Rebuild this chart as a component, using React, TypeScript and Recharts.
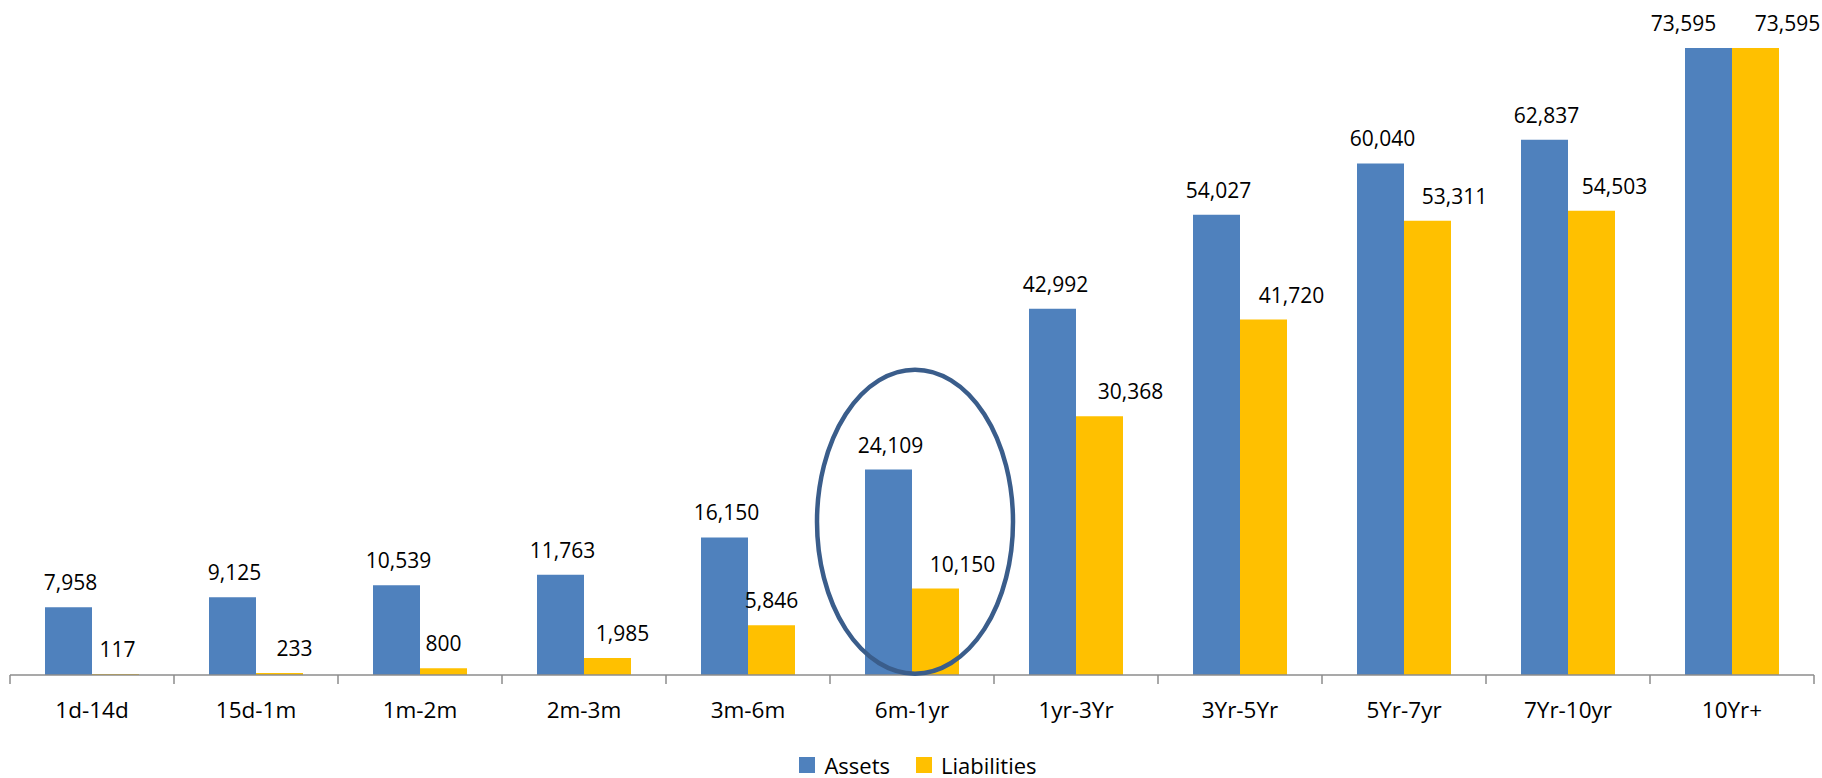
import React from "react";
import {
  BarChart,
  Bar,
  XAxis,
  YAxis,
  Legend,
  LabelList,
  ReferenceDot,
} from "recharts";

const buckets = [
  "1d-14d",
  "15d-1m",
  "1m-2m",
  "2m-3m",
  "3m-6m",
  "6m-1yr",
  "1yr-3Yr",
  "3Yr-5Yr",
  "5Yr-7yr",
  "7Yr-10yr",
  "10Yr+",
];
const assets = [7958, 9125, 10539, 11763, 16150, 24109, 42992, 54027, 60040, 62837, 73595];
const liabilities = [117, 233, 800, 1985, 5846, 10150, 30368, 41720, 53311, 54503, 73595];

// highlighted bucket and the value the ring is centred on
const highlightBucket = "6m-1yr";
const highlightCenter = 18000;

const data = buckets.map((b, i) => ({
  bucket: b,
  assets: assets[i],
  liabilities: liabilities[i],
}));

// horizontal nudges of the value labels (px), as placed in the original
const assetNudge = [2, 2, 2, 2, 2, 2, 3, 2, 2, 2, -25];
const liabNudge = [2, 15, 0, 15, 0, 27, 31, 28, 27, 23, 32];

const FONT = "'Open Sans', sans-serif";
const BLUE = "#4F81BD";
const GOLD = "#FFC000";

function fmt(v: any) {
  return Number(v).toLocaleString("en-US");
}

function makeLabel(nudges: number[]) {
  return (props: any) => {
    const { x, y, width, value, index } = props;
    return (
      <text
        x={x + width / 2 + (nudges[index] ?? 0)}
        y={y - 17}
        textAnchor="middle"
        fontSize={21}
        fontFamily={FONT}
        fill="#000"
      >
        {fmt(value)}
      </text>
    );
  };
}

function BucketTick(props: any) {
  const { x, y, payload, index, visibleTicksCount } = props;
  const half = payload?.offset ?? 82;
  const axisY = y;
  const isLast = index === (visibleTicksCount ?? buckets.length) - 1;
  return (
    <g>
      <line x1={x - half} x2={x - half} y1={axisY} y2={axisY + 9} stroke="#8c8c8c" strokeWidth={1.5} />
      {isLast && (
        <line x1={x + half} x2={x + half} y1={axisY} y2={axisY + 9} stroke="#8c8c8c" strokeWidth={1.5} />
      )}
      <text x={x} y={axisY + 43} textAnchor="middle" fontSize={22.5} fontFamily={FONT} fill="#000">
        {payload.value}
      </text>
    </g>
  );
}

function LegendBox() {
  const items = [
    { name: "Assets", color: BLUE },
    { name: "Liabilities", color: GOLD },
  ];
  return (
    <div
      style={{
        display: "flex",
        justifyContent: "center",
        gap: 26,
        height: 26,
        lineHeight: "26px",
        alignItems: "center",
        fontFamily: FONT,
        fontSize: 22,
        paddingLeft: 12,
      }}
    >
      {items.map((it) => (
        <div key={it.name} style={{ display: "flex", alignItems: "center", gap: 9 }}>
          <div style={{ width: 16, height: 16, background: it.color }} />
          <span>{it.name}</span>
        </div>
      ))}
    </div>
  );
}

export default function App() {
  return (
    <div style={{ position: "absolute", left: 0, top: 0, width: 1822, height: 778, background: "#fff" }}>
      <BarChart
        width={1822}
        height={778}
        data={data}
        margin={{ top: 48, right: 8, left: 10, bottom: 0 }}
        barGap={0}
        barSize={47}
      >
        <XAxis
          dataKey="bucket"
          axisLine={{ stroke: "#8c8c8c", strokeWidth: 1.5 }}
          tickLine={false}
          tick={<BucketTick />}
          height={77}
          interval={0}
          tickMargin={0}
          tickSize={0}
        />
        <YAxis hide domain={[0, 73595]} />
        <Legend verticalAlign="bottom" content={<LegendBox />} />
        <Bar dataKey="assets" name="Assets" fill={BLUE} isAnimationActive={false}>
          <LabelList dataKey="assets" content={makeLabel(assetNudge)} />
        </Bar>
        <Bar dataKey="liabilities" name="Liabilities" fill={GOLD} isAnimationActive={false}>
          <LabelList dataKey="liabilities" content={makeLabel(liabNudge)} />
        </Bar>
        <ReferenceDot
          x={highlightBucket}
          y={highlightCenter}
          ifOverflow="visible"
          shape={(p: any) => (
            <ellipse
              cx={p.cx + 3}
              cy={p.cy}
              rx={98}
              ry={152}
              fill="none"
              stroke="#3A5D8B"
              strokeWidth={4.5}
            />
          )}
        />
      </BarChart>
    </div>
  );
}
